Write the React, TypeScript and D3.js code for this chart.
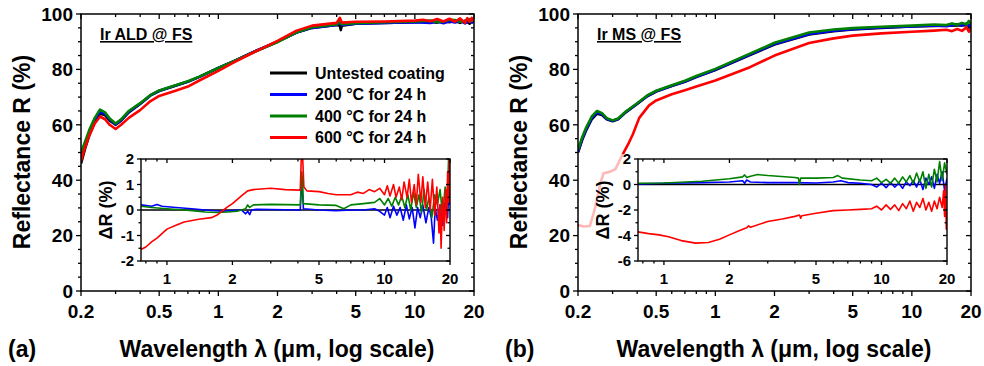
import React from "react";
import * as d3 from "d3";

type Pt = [number, number];

// === Panel (a): Ir ALD @ FS, reflectance R (%) vs wavelength (µm) ===
const aldUntested: Pt[] = [
  [0.2, 46], [0.21, 51.5], [0.22, 56], [0.235, 61], [0.25, 64], [0.265, 63.5], [0.28, 61.5],
  [0.3, 60], [0.32, 61.5], [0.35, 64.5], [0.4, 67.5], [0.45, 70.5], [0.5, 72.2], [0.6, 74],
  [0.7, 75.5], [0.8, 77.3], [1.0, 80.5], [1.2, 83], [1.5, 86.2], [2.0, 90], [2.5, 93.3], [3.0, 95],
  [4.0, 96], [4.15, 95.8], [4.2, 94.2], [4.25, 95.8], [5, 96.5], [7, 96.8], [10, 97], [12, 97.2],
  [13, 96.9], [14, 97.4], [15, 97.0], [16, 97.5], [17, 96.8], [18, 97.6], [19, 96.5], [19.5, 97.8], [20, 96.8],
];
const ald200: Pt[] = [
  [0.2, 48], [0.21, 52.5], [0.22, 57], [0.235, 61.8], [0.25, 64.6], [0.265, 64], [0.28, 61.9],
  [0.3, 60.2], [0.32, 61.7], [0.35, 64.7], [0.4, 67.6], [0.45, 70.6], [0.5, 72.3], [0.6, 74.1],
  [0.7, 75.6], [0.8, 77.3], [1.0, 80.5], [1.2, 83], [1.5, 86.2], [2.0, 90], [2.5, 93.3], [3.0, 95],
  [4.0, 96], [4.15, 97], [4.25, 96], [5, 96.5], [7, 96.8], [10, 97], [12, 96.8], [13, 97.3],
  [14, 96.7], [15, 97.4], [16, 96.9], [17, 97.5], [18, 96.6], [19, 97.7], [19.5, 96.9], [20, 97.4],
];
const ald400: Pt[] = [
  [0.2, 50], [0.21, 54], [0.22, 58], [0.235, 62.5], [0.25, 65.5], [0.265, 64.5], [0.28, 62.3],
  [0.3, 60.5], [0.32, 62], [0.35, 65], [0.4, 67.8], [0.45, 70.7], [0.5, 72.4], [0.6, 74.2],
  [0.7, 75.7], [0.8, 77.4], [1.0, 80.5], [1.2, 83], [1.5, 86.1], [2.0, 89.9], [2.5, 93.4], [3.0, 95.2],
  [4.0, 96.2], [4.15, 97.4], [4.25, 96.3], [5, 96.7], [7, 97], [10, 97.3], [12, 97.6], [13, 97.1],
  [14, 97.3], [15, 97.9], [16, 97.8], [17, 97.2], [18, 97.4], [19, 98.2], [19.5, 97.5], [20, 98.3],
];
const ald600: Pt[] = [
  [0.2, 47], [0.21, 52], [0.22, 56], [0.235, 60.5], [0.25, 63], [0.265, 62], [0.28, 60],
  [0.3, 58.5], [0.32, 60], [0.35, 62.5], [0.4, 65.3], [0.45, 68.5], [0.5, 70.4], [0.6, 72.2],
  [0.7, 73.8], [0.8, 76], [1.0, 79.5], [1.2, 82.5], [1.5, 86], [2.0, 90.3], [2.5, 94], [3.0, 95.8],
  [4.0, 96.8], [4.15, 98.6], [4.25, 96.9], [5, 97.2], [7, 97.3], [10, 97.6], [11, 97.9], [12, 97.4],
  [13, 98.2], [14, 97.3], [15, 98.3], [16, 97.2], [17, 98.4], [18, 96.8], [18.5, 98.5], [19, 97.2],
  [19.5, 98.6], [20, 97.5],
];

// === Panel (a) inset: ΔR (%) relative to the untested coating ===
const aldDelta200: Pt[] = [
  [0.76, 0.2], [0.85, 0.15], [0.9, 0.22], [0.95, 0.15], [1.1, 0.1], [1.3, 0.05], [1.5, 0], [1.8, -0.05],
  [2.0, -0.02], [2.2, 0.0], [2.3, -0.15], [2.35, -0.05], [2.4, -0.18], [2.45, 0.0], [2.6, 0.03], [3, 0.02],
  [4.1, 0.0], [4.17, 1.3], [4.24, 0.05], [5, 0.0], [6, -0.03], [7, 0.0], [8, 0.0], [9, 0.05], [9.5, -0.05],
  [10, -0.2], [10.3, 0.1], [10.6, -0.3], [11, 0.15], [11.4, -0.2], [11.8, 0.1], [12.2, -0.4], [12.6, 0.2],
  [13, -0.35], [13.4, 0.1], [13.8, -0.7], [14.2, 0.1], [14.6, -0.3], [15, 0.2], [15.5, -0.5], [16, 0.1],
  [16.4, -0.3], [16.8, -1.3], [17.1, 0.1], [17.5, -0.4], [18, 0.2], [18.5, -0.6], [19, 0.3], [19.5, -0.3],
  [19.8, 1.0], [20, 0.2],
];
const aldDelta400: Pt[] = [
  [0.76, 0.15], [0.85, 0.1], [1.0, 0.05], [1.2, 0.0], [1.5, -0.08], [1.7, -0.1], [1.9, -0.08], [2.1, -0.05],
  [2.3, 0.05], [2.35, 0.2], [2.4, 0.1], [2.5, 0.2], [3, 0.22], [4.1, 0.2], [4.17, 1.5], [4.24, 0.25],
  [5, 0.2], [6, 0.18], [6.5, 0.05], [7, 0.2], [8, 0.25], [9, 0.3], [9.5, 0.45], [10, 0.2], [10.4, 0.45],
  [10.8, 0.15], [11.2, 0.5], [11.6, 0.2], [12, 0.55], [12.4, 0.1], [12.8, 0.6], [13.2, 0.0], [13.6, 0.7],
  [14, 0.1], [14.4, 0.6], [14.8, -0.1], [15.2, 0.8], [15.6, 0.0], [16, 0.5], [16.5, -0.3], [17, 0.6],
  [17.5, 0.2], [18, 0.8], [18.5, -0.2], [19, 0.9], [19.4, 0.2], [19.7, 2.0], [20, 1.2],
];
const aldDelta600: Pt[] = [
  [0.76, -1.55], [0.8, -1.45], [0.85, -1.25], [0.9, -1.1], [1.0, -0.75], [1.1, -0.6], [1.2, -0.47],
  [1.4, -0.36], [1.6, -0.3], [1.7, -0.2], [1.8, -0.03], [1.9, 0.12], [2.0, 0.25], [2.2, 0.55], [2.35, 0.75],
  [2.5, 0.8], [3, 0.85], [3.5, 0.8], [4.1, 0.78], [4.15, 2.2], [4.2, 2.2], [4.26, 0.9], [4.4, 0.75],
  [5, 0.72], [5.5, 0.65], [6, 0.6], [7, 0.6], [7.5, 0.7], [8, 0.65], [8.5, 0.8], [9, 0.72], [9.5, 0.85],
  [10, 0.6], [10.3, 0.95], [10.6, 0.55], [11, 1.0], [11.3, 0.5], [11.7, 0.9], [12, 0.4], [12.3, 1.1],
  [12.7, 0.5], [13, 1.2], [13.3, 0.3], [13.7, 1.0], [14, 0.2], [14.3, 1.4], [14.7, 0.3], [15, 1.3],
  [15.4, 0.1], [15.8, 1.1], [16.2, 0.0], [16.6, 1.2], [17, -0.2], [17.4, 0.9], [17.8, -0.9], [18, 0.2],
  [18.2, -1.5], [18.5, 0.5], [18.8, -0.8], [19.1, 0.8], [19.3, -0.5], [19.5, 1.5], [19.7, 0.3],
  [19.85, 2.2], [20, 0.8],
];

// === Panel (b): Ir MS @ FS ===
const msUntested: Pt[] = [
  [0.2, 50], [0.21, 54.5], [0.22, 58], [0.235, 62], [0.25, 64], [0.265, 63.5], [0.28, 62],
  [0.3, 61.3], [0.32, 62], [0.35, 64.5], [0.4, 67.5], [0.45, 70.3], [0.5, 72], [0.6, 74],
  [0.7, 75.5], [0.8, 77.2], [1.0, 79.8], [1.5, 85.2], [2.0, 89], [3.0, 92.6], [4.0, 93.8],
  [5, 94.4], [7, 95], [10, 95.5], [15, 95.8], [20, 96],
];
const ms200: Pt[] = [
  [0.2, 50.3], [0.21, 54.8], [0.22, 58.3], [0.235, 62.4], [0.25, 64.5], [0.265, 63.8], [0.28, 62.2],
  [0.3, 61.5], [0.32, 62.1], [0.35, 64.6], [0.4, 67.6], [0.45, 70.4], [0.5, 72.1], [0.6, 74.1],
  [0.7, 75.6], [0.8, 77.3], [1.0, 79.9], [1.5, 85.4], [2.0, 89.2], [3.0, 92.8], [4.0, 94],
  [5, 94.5], [7, 95.1], [10, 95.5], [13, 95.9], [15, 95.6], [17, 96.3], [18, 95.8], [19, 96.6],
  [19.5, 95.4], [20, 96.4],
];
const ms400: Pt[] = [
  [0.2, 51], [0.21, 55.5], [0.22, 59], [0.235, 63], [0.25, 65], [0.265, 64.2], [0.28, 62.4],
  [0.3, 61.6], [0.32, 62.3], [0.35, 64.8], [0.4, 67.8], [0.45, 70.6], [0.5, 72.3], [0.6, 74.3],
  [0.7, 75.9], [0.8, 77.6], [1.0, 80.2], [1.5, 85.7], [2.0, 89.6], [3.0, 93.3], [4.0, 94.4],
  [5, 94.9], [7, 95.4], [10, 95.8], [13, 96.2], [15, 96], [16, 96.6], [17, 96.1], [18, 96.8],
  [19, 96.2], [19.5, 97.5], [20, 96.5],
];
const ms600: Pt[] = [
  [0.2, 23.8], [0.215, 23.3], [0.23, 23.5], [0.24, 28], [0.25, 33], [0.26, 39], [0.27, 42.5],
  [0.29, 43], [0.31, 44], [0.32, 46], [0.33, 48], [0.36, 53], [0.38, 56.5], [0.41, 62.5],
  [0.46, 67], [0.5, 68.8], [0.6, 71], [0.7, 72.5], [0.8, 73.8], [1.0, 76], [1.5, 80.8], [2.0, 85],
  [3.0, 89.5], [4.0, 91.2], [5, 92.2], [7, 93], [10, 93.6], [13, 94], [15, 94.3], [16, 93.8],
  [17, 94.6], [18, 93.9], [19, 95.2], [19.5, 93.6], [20, 94.8],
];

// === Panel (b) inset ===
const msDelta200: Pt[] = [
  [0.75, 0.05], [1, 0.1], [1.5, 0.15], [2, 0.2], [2.3, 0.3], [2.35, 0.1], [2.4, 0.35], [2.5, 0.2],
  [3, 0.15], [4, 0.15], [5, 0.12], [6, 0.2], [6.5, 0.3], [7, 0.15], [8, 0.1], [9, 0.0], [9.5, -0.2],
  [10, 0.1], [10.5, -0.25], [11, 0.15], [11.5, -0.2], [12, 0.1], [12.5, -0.3], [13, 0.2], [13.5, -0.1],
  [14, 0.3], [14.5, -0.2], [15, 0.4], [15.5, -0.4], [16, 0.5], [16.5, 0.0], [17, 0.6], [17.5, -0.3],
  [18, 0.8], [18.5, 0.1], [19, 1.0], [19.5, -0.5], [20, 0.5],
];
const msDelta400: Pt[] = [
  [0.75, 0.1], [1, 0.12], [1.5, 0.25], [2, 0.45], [2.3, 0.6], [2.35, 0.75], [2.4, 0.55], [2.5, 0.65],
  [2.7, 0.78], [3, 0.7], [4, 0.55], [4.15, 0.5], [4.2, 0.0], [4.25, 0.5], [5, 0.5], [6, 0.55],
  [6.3, 0.7], [6.6, 0.5], [8, 0.35], [9, 0.3], [9.5, 0.5], [10, 0.15], [10.5, 0.4], [11, 0.1],
  [11.5, 0.5], [12, 0.1], [12.5, 0.6], [13, 0.2], [13.5, 0.7], [14, 0.1], [14.5, 0.9], [15, 0.2],
  [15.5, 1.0], [16, -0.3], [16.5, 0.8], [17, -0.2], [17.5, 1.2], [18, 0.2], [18.5, 1.8], [19, 0.3],
  [19.5, 1.7], [20, 0.8],
];
const msDelta600: Pt[] = [
  [0.75, -3.7], [0.85, -3.85], [0.95, -3.95], [1.05, -4.1], [1.2, -4.4], [1.4, -4.6], [1.6, -4.55],
  [1.8, -4.3], [2.0, -3.95], [2.2, -3.65], [2.4, -3.4], [2.45, -3.25], [2.5, -3.35], [3, -2.9],
  [3.5, -2.7], [4.0, -2.5], [4.2, -2.4], [4.25, -2.65], [4.3, -2.45], [5, -2.25], [6, -2.05], [7, -2.0],
  [8, -1.95], [9, -1.9], [9.5, -1.7], [10, -2.0], [10.5, -1.6], [11, -1.95], [11.5, -1.6], [12, -2.05],
  [12.5, -1.5], [13, -1.9], [13.5, -1.3], [14, -2.1], [14.5, -1.4], [15, -1.8], [15.5, -1.1], [16, -2.0],
  [16.5, -1.4], [17, -2.1], [17.5, -1.3], [18, -1.9], [18.5, -1.0], [19, -1.8], [19.3, -0.5],
  [19.5, -2.5], [19.7, 0.0], [19.85, -3.5], [20, -2.5],
];

// === Shared labels / ticks ===
const seriesColors = ["#000000", "#0000ff", "#008000", "#ff0000"];
const legendLabels = ["Untested coating", "200 °C for 24 h", "400 °C for 24 h", "600 °C for 24 h"];
const mainXTicks = [0.2, 0.5, 1, 2, 5, 10, 20];
const mainXMinor = [0.3, 0.4, 0.6, 0.7, 0.8, 0.9, 3, 4, 6, 7, 8, 9];
const mainYTicks = [0, 20, 40, 60, 80, 100];
const mainYMinor = d3.range(0, 101, 5).filter(v => v % 20 !== 0);
const insetXTicks = [1, 2, 5, 10, 20];
const insetXMinor = [0.8, 0.9, 3, 4, 6, 7, 8, 9];
const aldInsetYTicks = [-2, -1, 0, 1, 2];
const msInsetYTicks = [-6, -4, -2, 0, 2];

const FONT = "'Liberation Sans', Arial, sans-serif";

type PanelProps = {
  id: string;
  dx: number;
  letter: string;
  title: string;
  main: Pt[][];
  delta: Pt[][];
  insetDomain: [number, number];
  insetTicks: number[];
  bgX0: number;
  showLegend: boolean;
};

const Panel = ({ id, dx, letter, title, main, delta, insetDomain, insetTicks, bgX0, showLegend }: PanelProps) => {
  // === Frame geometry ===
  const fx0 = 81, fx1 = 474, fy0 = 14, fy1 = 291;
  const ix0 = 141, ix1 = 450, iy0 = 159, iy1 = 261;

  const x = d3.scaleLog().domain([0.2, 20]).range([fx0, fx1]);
  const y = d3.scaleLinear().domain([0, 100]).range([fy1, fy0]);
  const ix = d3.scaleLog().domain([0.76, 20]).range([ix0, ix1]);
  const iy = d3.scaleLinear().domain(insetDomain).range([iy1, iy0]);

  const line = d3.line<Pt>().x(d => x(d[0])).y(d => y(d[1]));
  const iline = d3.line<Pt>().x(d => ix(d[0])).y(d => iy(d[1]));

  const insetMinorY = d3.pairs(insetTicks).map(([a, b]) => (a + b) / 2);
  const MAJ = 5, MIN = 3;
  const tickStroke = { stroke: "#000", strokeWidth: 1.3 };

  return (
    <g transform={`translate(${dx},0)`} fontFamily={FONT} fontWeight="bold">
      <defs>
        <clipPath id={`${id}-main`}>
          <rect x={fx0} y={fy0} width={fx1 - fx0} height={fy1 - fy0} />
        </clipPath>
        <clipPath id={`${id}-inset`}>
          <rect x={ix0} y={iy0} width={ix1 - ix0} height={iy1 - iy0} />
        </clipPath>
      </defs>

      {/* main curves */}
      <g clipPath={`url(#${id}-main)`}>
        {main.map((s, i) => (
          <path key={i} d={line(s) ?? ""} fill="none" stroke={seriesColors[i]} strokeWidth={2.6}
            strokeLinejoin="round" />
        ))}
      </g>

      {/* inset background, half transparent over the curves */}
      <rect x={bgX0} y={154} width={fx1 - 6 - bgX0} height={fy1 - 2 - 154} fill="#fff" opacity={0.72} />

      {/* main frame and ticks */}
      <rect x={fx0} y={fy0} width={fx1 - fx0} height={fy1 - fy0} fill="none" stroke="#000" strokeWidth={1.5} />
      {mainXTicks.map(t => (
        <g key={`mx${t}`} {...tickStroke}>
          <line x1={x(t)} x2={x(t)} y1={fy1} y2={fy1 + MAJ} />
          <line x1={x(t)} x2={x(t)} y1={fy0} y2={fy0 + MAJ} />
        </g>
      ))}
      {mainXMinor.map(t => (
        <g key={`mxm${t}`} {...tickStroke}>
          <line x1={x(t)} x2={x(t)} y1={fy1} y2={fy1 + MIN} />
          <line x1={x(t)} x2={x(t)} y1={fy0} y2={fy0 + MIN} />
        </g>
      ))}
      {mainYTicks.map(t => (
        <g key={`my${t}`} {...tickStroke}>
          <line x1={fx0 - MAJ} x2={fx0} y1={y(t)} y2={y(t)} />
          <line x1={fx1 - MAJ} x2={fx1} y1={y(t)} y2={y(t)} />
        </g>
      ))}
      {mainYMinor.map(t => (
        <g key={`mym${t}`} {...tickStroke}>
          <line x1={fx0 - MIN} x2={fx0} y1={y(t)} y2={y(t)} />
          <line x1={fx1 - MIN} x2={fx1} y1={y(t)} y2={y(t)} />
        </g>
      ))}
      {mainXTicks.map(t => (
        <text key={`mxl${t}`} x={x(t)} y={318} fontSize={19} textAnchor="middle">{String(t)}</text>
      ))}
      {mainYTicks.map(t => (
        <text key={`myl${t}`} x={fx0 - 8} y={y(t) + 6.8} fontSize={19} textAnchor="end">{String(t)}</text>
      ))}

      {/* axis titles */}
      <text x={8} y={357} fontSize={23}>{letter}</text>
      <text x={277} y={357} fontSize={23} textAnchor="middle">Wavelength λ (μm, log scale)</text>
      <text transform={`translate(30,152) rotate(-90)`} fontSize={23} textAnchor="middle">Reflectance R (%)</text>

      {/* sample label */}
      <text x={100} y={40} fontSize={16} style={{ textDecoration: "underline" }}>{title}</text>

      {/* legend */}
      {showLegend && legendLabels.map((lab, i) => {
        const ly = 73 + i * 21.5;
        return (
          <g key={lab}>
            <line x1={270} x2={307} y1={ly} y2={ly} stroke={seriesColors[i]} strokeWidth={3} />
            <text x={315} y={ly + 5.5} fontSize={16}>{lab}</text>
          </g>
        );
      })}

      {/* === inset === */}
      <line x1={ix0} x2={ix1} y1={iy(0)} y2={iy(0)} stroke="#000" strokeWidth={1.3} />
      <g clipPath={`url(#${id}-inset)`}>
        {delta.map((s, i) => (
          <path key={i} d={iline(s) ?? ""} fill="none" stroke={seriesColors[i + 1]} strokeWidth={1.6}
            strokeLinejoin="round" />
        ))}
      </g>
      <rect x={ix0} y={iy0} width={ix1 - ix0} height={iy1 - iy0} fill="none" stroke="#000" strokeWidth={1.4} />
      {insetXTicks.map(t => (
        <g key={`ix${t}`} {...tickStroke}>
          <line x1={ix(t)} x2={ix(t)} y1={iy1} y2={iy1 + 4} />
          <line x1={ix(t)} x2={ix(t)} y1={iy0} y2={iy0 + 4} />
        </g>
      ))}
      {insetXMinor.map(t => (
        <g key={`ixm${t}`} {...tickStroke}>
          <line x1={ix(t)} x2={ix(t)} y1={iy1} y2={iy1 + 2.5} />
          <line x1={ix(t)} x2={ix(t)} y1={iy0} y2={iy0 + 2.5} />
        </g>
      ))}
      {insetTicks.map(t => (
        <g key={`iy${t}`} {...tickStroke}>
          <line x1={ix0 - 4} x2={ix0} y1={iy(t)} y2={iy(t)} />
          <line x1={ix1 - 4} x2={ix1} y1={iy(t)} y2={iy(t)} />
        </g>
      ))}
      {insetMinorY.map(t => (
        <g key={`iym${t}`} {...tickStroke}>
          <line x1={ix0 - 2.5} x2={ix0} y1={iy(t)} y2={iy(t)} />
          <line x1={ix1 - 2.5} x2={ix1} y1={iy(t)} y2={iy(t)} />
        </g>
      ))}
      {insetXTicks.map(t => (
        <text key={`ixl${t}`} x={ix(t)} y={284} fontSize={15} textAnchor="middle">{String(t)}</text>
      ))}
      {insetTicks.map(t => (
        <text key={`iyl${t}`} x={ix0 - 7} y={iy(t) + 5.3} fontSize={15} textAnchor="end">{String(t)}</text>
      ))}
      <text transform={`translate(112,210) rotate(-90)`} fontSize={18} textAnchor="middle">ΔR (%)</text>
    </g>
  );
};

const App = () => (
  <div style={{ position: "absolute", left: 0, top: 0, width: 984, height: 366, background: "#fff" }}>
    <svg width={984} height={366} viewBox="0 0 984 366">
      <rect width={984} height={366} fill="#fff" />
      <Panel id="ald" dx={0} letter="(a)" title="Ir ALD @ FS"
        main={[aldUntested, ald200, ald400, ald600]}
        delta={[aldDelta200, aldDelta400, aldDelta600]}
        insetDomain={[-2, 2]} insetTicks={aldInsetYTicks} bgX0={95} showLegend />
      <Panel id="ms" dx={497} letter="(b)" title="Ir MS @ FS"
        main={[msUntested, ms200, ms400, ms600]}
        delta={[msDelta200, msDelta400, msDelta600]}
        insetDomain={[-6, 2]} insetTicks={msInsetYTicks} bgX0={82} showLegend={false} />
    </svg>
  </div>
);

export default App;
